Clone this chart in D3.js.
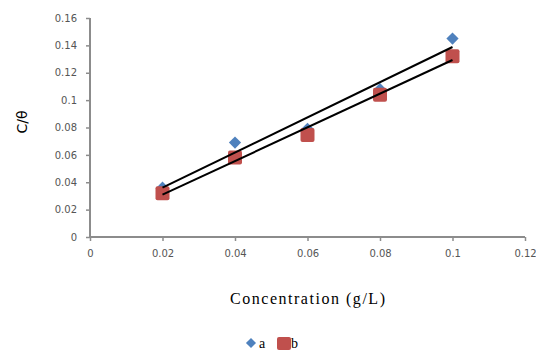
<!DOCTYPE html>
<html>
<head>
<meta charset="utf-8">
<script src="https://cdn.jsdelivr.net/npm/d3@7"></script>
<style>
  body { margin: 0; background: #fff; }
</style>
</head>
<body>
<div class="chart"></div>
<script>
// concentration values (g/L)
const conc = [0.02, 0.04, 0.06, 0.08, 0.1];
// C/theta for series a and b
const seriesA = [0.036, 0.069, 0.079, 0.108, 0.145];
const seriesB = [0.032, 0.058, 0.0745, 0.104, 0.132];
const xTicks = [0, 0.02, 0.04, 0.06, 0.08, 0.1, 0.12];
const yTicks = [0, 0.02, 0.04, 0.06, 0.08, 0.1, 0.12, 0.14, 0.16];
const seriesNames = ["a", "b"];

const W = 536, H = 354;
const svg = d3.select(".chart")
    .append("svg")
    .attr("width", W)
    .attr("height", H);

const xScale = d3.scaleLinear()
    .domain([0, 0.12])
    .range([90, 525]);

const yScale = d3.scaleLinear()
    .domain([0, 0.16])
    .range([237, 18]);

// axes
const xAxis = d3.axisBottom(xScale)
    .tickValues(xTicks)
    .tickSize(4)
    .tickPadding(9)
    .tickFormat(d => String(+d.toFixed(2)));

const yAxis = d3.axisLeft(yScale)
    .tickValues(yTicks)
    .tickSize(4)
    .tickPadding(9)
    .tickFormat(d => String(+d.toFixed(2)));

svg.append("g")
    .attr("transform", `translate(0,${yScale(0)})`)
    .call(xAxis)
    .call(g => g.select(".domain").attr("stroke", "#8c8c8c").attr("stroke-width", 2).attr("d", `M${xScale(0)},0H${xScale(0.12)}`))
    .call(g => g.selectAll(".tick line").attr("stroke", "#8c8c8c").attr("stroke-width", 1.5))
    .call(g => g.selectAll(".tick text")
        .attr("fill", "#555")
        .attr("font-family", "DejaVu Sans, sans-serif")
        .attr("font-size", 10));

svg.append("g")
    .attr("transform", `translate(${xScale(0)},0)`)
    .call(yAxis)
    .call(g => g.select(".domain").attr("stroke", "#8c8c8c").attr("stroke-width", 2).attr("d", `M0,${yScale(0.16)}V${yScale(0)}`))
    .call(g => g.selectAll(".tick line").attr("stroke", "#8c8c8c").attr("stroke-width", 1.5))
    .call(g => g.selectAll(".tick text")
        .attr("fill", "#555")
        .attr("font-family", "DejaVu Sans, sans-serif")
        .attr("font-size", 10));

// linear trend line via least squares
function fit(xs, ys) {
    const mx = d3.mean(xs), my = d3.mean(ys);
    const slope = d3.sum(xs, (x, i) => (x - mx) * (ys[i] - my)) / d3.sum(xs, x => (x - mx) ** 2);
    return x => my + slope * (x - mx);
}

const line = d3.line()
    .x(d => xScale(d[0]))
    .y(d => yScale(d[1]));

// markers
const diamond = d3.symbol().type(d3.symbolDiamond2).size(95);

svg.append("g")
    .selectAll("path")
    .data(conc.map((x, i) => [x, seriesA[i]]))
    .join("path")
    .attr("d", diamond)
    .attr("transform", d => `translate(${xScale(d[0])},${yScale(d[1])})`)
    .attr("fill", "#4f81bd");

svg.append("g")
    .selectAll("rect")
    .data(conc.map((x, i) => [x, seriesB[i]]))
    .join("rect")
    .attr("x", d => xScale(d[0]) - 7)
    .attr("y", d => yScale(d[1]) - 7)
    .attr("width", 14)
    .attr("height", 14)
    .attr("rx", 2)
    .attr("fill", "#c0504d");

[seriesA, seriesB].forEach(ys => {
    const f = fit(conc, ys);
    const ends = d3.extent(conc).map(x => [x, f(x)]);
    svg.append("path")
        .datum(ends)
        .attr("fill", "none")
        .attr("stroke", "black")
        .attr("stroke-width", 2)
        .attr("d", line);
});

// axis titles
svg.append("text")
    .attr("x", 230)
    .attr("y", 304)
    .attr("textLength", 155)
    .attr("lengthAdjust", "spacing")
    .attr("font-family", "Liberation Serif, serif")
    .attr("font-size", 16)
    .text("Concentration (g/L)");

svg.append("text")
    .attr("transform", "translate(27,122) rotate(-90)")
    .attr("text-anchor", "middle")
    .attr("font-family", "DejaVu Sans, sans-serif")
    .attr("font-size", 14)
    .text("C/θ");

// legend
const legend = svg.append("g");
legend.append("path")
    .attr("d", d3.symbol().type(d3.symbolDiamond2).size(65))
    .attr("transform", "translate(251,343)")
    .attr("fill", "#4f81bd");
legend.append("text")
    .attr("x", 259)
    .attr("y", 348)
    .attr("font-family", "Liberation Serif, serif")
    .attr("font-size", 14)
    .text(seriesNames[0]);
legend.append("rect")
    .attr("x", 277)
    .attr("y", 337)
    .attr("width", 14)
    .attr("height", 13)
    .attr("rx", 2)
    .attr("fill", "#c0504d");
legend.append("text")
    .attr("x", 291)
    .attr("y", 348)
    .attr("font-family", "Liberation Serif, serif")
    .attr("font-size", 14)
    .text(seriesNames[1]);
</script>
</body>
</html>
